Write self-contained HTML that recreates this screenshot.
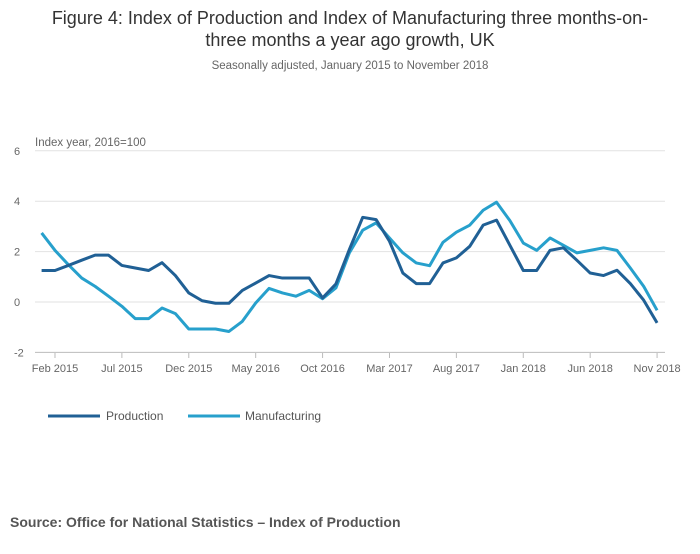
<!DOCTYPE html>
<html><head><meta charset="utf-8"><style>
body{margin:0;background:#fff;font-family:"Liberation Sans",sans-serif;}
svg text{font-family:"Liberation Sans",sans-serif;}
</style></head><body>
<svg id="c" width="700" height="549" xmlns="http://www.w3.org/2000/svg">
<text x="350" y="24" text-anchor="middle" font-size="18" fill="#333">Figure 4: Index of Production and Index of Manufacturing three months-on-</text>
<text x="350" y="46" text-anchor="middle" font-size="18" fill="#333">three months a year ago growth, UK</text>
<text x="350" y="69" text-anchor="middle" font-size="11.5" fill="#666">Seasonally adjusted, January 2015 to November 2018</text>
<text x="35" y="146" font-size="11.5" fill="#666">Index year, 2016=100</text>
<g id="grid"></g><g id="xt"></g><g id="lines"></g>
<g>
<line x1="48" y1="416" x2="100" y2="416" stroke="#206095" stroke-width="3"/>
<text x="106" y="420" font-size="12" fill="#555">Production</text>
<line x1="188" y1="416" x2="240" y2="416" stroke="#27a0cc" stroke-width="3"/>
<text x="245" y="420" font-size="12" fill="#555">Manufacturing</text>
</g>
<text x="10" y="527" font-size="14" font-weight="bold" fill="#555">Source: Office for National Statistics – Index of Production</text>
</svg>
<script>
const yTicks=[6,4,2,0,-2];
const xTickLabels=["Feb 2015","Jul 2015","Dec 2015","May 2016","Oct 2016","Mar 2017","Aug 2017","Jan 2018","Jun 2018","Nov 2018"];
const xTickIdx=[1,6,11,16,21,26,31,36,41,46];
const production=[1.25,1.25,1.45,1.66,1.86,1.86,1.45,1.35,1.25,1.56,1.05,0.36,0.05,-0.05,-0.05,0.46,0.75,1.05,0.95,0.95,0.95,0.16,0.72,2.08,3.36,3.27,2.41,1.15,0.73,0.73,1.55,1.75,2.21,3.05,3.25,2.25,1.25,1.25,2.05,2.15,1.66,1.15,1.05,1.26,0.73,0.07,-0.83];
const manufacturing=[2.74,2.05,1.48,0.95,0.62,0.23,-0.17,-0.66,-0.66,-0.24,-0.46,-1.07,-1.07,-1.07,-1.17,-0.77,-0.04,0.54,0.36,0.23,0.46,0.13,0.56,1.95,2.85,3.14,2.54,1.95,1.55,1.44,2.37,2.77,3.05,3.64,3.96,3.23,2.34,2.05,2.54,2.25,1.95,2.05,2.15,2.05,1.35,0.62,-0.33];
const NS="http://www.w3.org/2000/svg";
const X=i=>41.6+i*13.38;
const Y=v=>302-v*25.2;
const grid=document.getElementById('grid');
yTicks.forEach(t=>{
 const l=document.createElementNS(NS,'line');
 l.setAttribute('x1',35);l.setAttribute('x2',665);l.setAttribute('y1',Y(t));l.setAttribute('y2',Y(t));
 l.setAttribute('stroke',t===-2?'#bbb':'#e2e2e2');l.setAttribute('stroke-width',1);
 
 
 grid.appendChild(l);
 const tx=document.createElementNS(NS,'text');
 tx.setAttribute('x',14);tx.setAttribute('y',Y(t)+4);tx.setAttribute('font-size',11);tx.setAttribute('fill','#666');
 tx.textContent=t;
 
 
 grid.appendChild(tx);
});
const xt=document.getElementById('xt');
xTickIdx.forEach((i,k)=>{
 const l=document.createElementNS(NS,'line');
 l.setAttribute('x1',X(i));l.setAttribute('x2',X(i));l.setAttribute('y1',353);l.setAttribute('y2',358);l.setAttribute('stroke','#bbb');
 
 
 xt.appendChild(l);
 const tx=document.createElementNS(NS,'text');
 tx.setAttribute('x',X(i));tx.setAttribute('y',372);tx.setAttribute('font-size',11);tx.setAttribute('fill','#666');tx.setAttribute('text-anchor','middle');
 tx.textContent=xTickLabels[k];
 
 
 xt.appendChild(tx);
});
const lines=document.getElementById('lines');
function draw(data,color,name){
 const p=document.createElementNS(NS,'polyline');
 p.setAttribute('points',data.map((v,i)=>X(i)+','+Y(v)).join(' '));
 p.setAttribute('fill','none');p.setAttribute('stroke',color);p.setAttribute('stroke-width',3);p.setAttribute('stroke-linejoin','round');
 
 
 lines.appendChild(p);
}
draw(manufacturing,'#27a0cc','manufacturing-line');
draw(production,'#206095','production-line');
</script>
</body></html>
